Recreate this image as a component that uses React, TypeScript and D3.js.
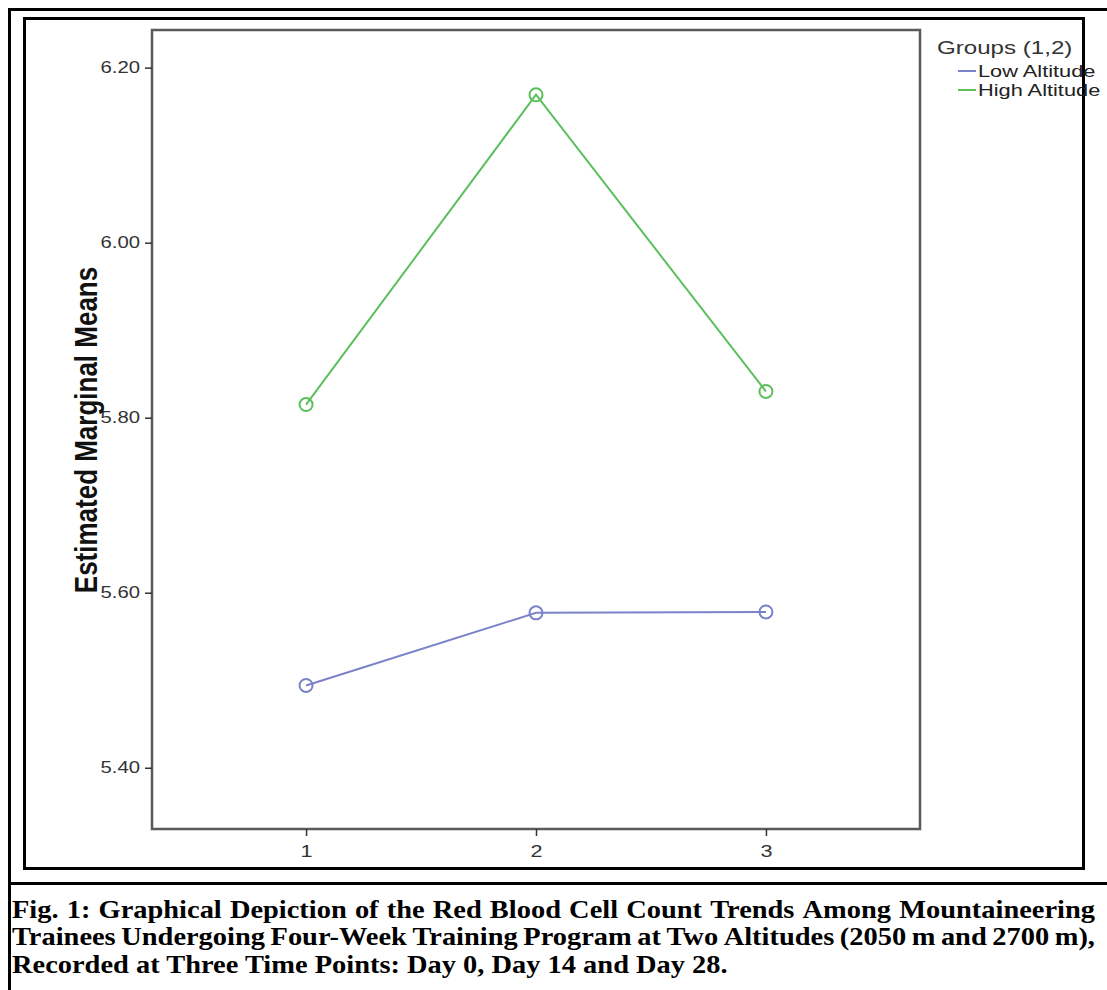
import React, { useEffect, useRef } from 'react';
import * as d3 from 'd3';

const timePoints = ['1', '2', '3'];
const lowAltitude = [5.494, 5.577, 5.578];
const highAltitude = [5.815, 6.169, 5.83];
const seriesNames = ['Low Altitude', 'High Altitude'];
const seriesColors = ['#7a82c8', '#5bc05b'];
const yTicks = [5.4, 5.6, 5.8, 6.0, 6.2];
const captionLines = [
  'Fig. 1: Graphical Depiction of the Red Blood Cell Count Trends Among Mountaineering',
  'Trainees Undergoing Four-Week Training Program at Two Altitudes (2050 m and 2700 m),',
  'Recorded at Three Time Points: Day 0, Day 14 and Day 28.',
];

const sans = '"Liberation Sans", Arial, sans-serif';
const serif = '"Liberation Serif", "Times New Roman", serif';
// the chart picture is stretched sideways a little
const stretch = 1.27;

export default function App() {
  const ref = useRef<SVGSVGElement>(null);

  useEffect(() => {
    const svg = d3.select(ref.current);
    svg.selectAll('*').remove();

    // page frames
    svg.append('line').attr('x1', 9.5).attr('y1', 8).attr('x2', 9.5).attr('y2', 990)
      .attr('stroke', '#000').attr('stroke-width', 3);
    svg.append('line').attr('x1', 8).attr('y1', 9.5).attr('x2', 1107).attr('y2', 9.5)
      .attr('stroke', '#000').attr('stroke-width', 3);
    svg.append('line').attr('x1', 8).attr('y1', 883.5).attr('x2', 1107).attr('y2', 883.5)
      .attr('stroke', '#000').attr('stroke-width', 3);
    svg.append('rect').attr('x', 24.5).attr('y', 18.5).attr('width', 1059).attr('height', 850)
      .attr('fill', 'none').attr('stroke', '#000').attr('stroke-width', 3);

    const left = 152, right = 920, top = 30, bottom = 829;

    const x = d3.scalePoint().domain(timePoints).range([left, right]).padding(0.67);
    const y = d3.scaleLinear().domain([5.33, 6.243]).range([bottom, top]);

    // plot frame
    svg.append('rect').attr('x', left).attr('y', top).attr('width', right - left).attr('height', bottom - top)
      .attr('fill', 'none').attr('stroke', '#5a5a5a').attr('stroke-width', 2.5);

    const yAxis = svg.append('g').attr('transform', `translate(${left},0)`)
      .call(d3.axisLeft(y).tickValues(yTicks).tickFormat(d3.format('.2f')).tickSize(7).tickPadding(5));
    yAxis.select('.domain').remove();
    yAxis.selectAll('line').attr('stroke', '#333').attr('stroke-width', 1.5);
    yAxis.selectAll('text')
      .attr('x', null)
      .attr('transform', `translate(-12,0) scale(${stretch},1)`)
      .attr('font-family', sans).attr('font-size', 16).attr('fill', '#333');

    const xAxis = svg.append('g').attr('transform', `translate(0,${bottom})`)
      .call(d3.axisBottom(x).tickSize(7).tickPadding(9));
    xAxis.select('.domain').remove();
    xAxis.selectAll('line').attr('stroke', '#333').attr('stroke-width', 1.5);
    xAxis.selectAll('text')
      .attr('y', null)
      .attr('transform', `translate(0,16) scale(${stretch},1)`)
      .attr('font-family', sans).attr('font-size', 17).attr('fill', '#333');

    // y title
    svg.append('text')
      .attr('transform', `translate(97,430) scale(1.2,1) rotate(-90)`)
      .attr('text-anchor', 'middle')
      .attr('font-family', sans).attr('font-weight', 'bold').attr('font-size', 26)
      .attr('fill', '#111')
      .text('Estimated Marginal Means');

    // series
    const series = [lowAltitude, highAltitude];
    const line = d3.line<number>().x((d, i) => x(timePoints[i]) as number).y(d => y(d));
    series.forEach((vals, s) => {
      svg.append('path').attr('d', line(vals)).attr('fill', 'none')
        .attr('stroke', seriesColors[s]).attr('stroke-width', 2);
      svg.selectAll(null).data(vals).enter().append('circle')
        .attr('cx', (d, i) => x(timePoints[i]) as number)
        .attr('cy', d => y(d))
        .attr('r', 6.5)
        .attr('fill', 'none').attr('stroke', seriesColors[s]).attr('stroke-width', 2);
    });

    // legend
    svg.append('text').attr('transform', `translate(937,54) scale(${stretch},1)`)
      .attr('font-family', sans).attr('font-size', 19).attr('fill', '#333')
      .text('Groups (1,2)');
    seriesNames.forEach((name, i) => {
      const ly = 71 + i * 19;
      svg.append('line').attr('x1', 958).attr('x2', 976).attr('y1', ly).attr('y2', ly)
        .attr('stroke', seriesColors[i]).attr('stroke-width', 2);
      svg.append('text').attr('transform', `translate(978,${ly + 6}) scale(1.32,1)`)
        .attr('font-family', sans).attr('font-size', 16.5).attr('fill', '#222')
        .text(name);
    });

    // caption, justified
    const capLeft = 12, capRight = 1095, lastWidth = 716, capSize = 26;
    const cap = svg.append('g');
    const probe = cap.append('text')
      .attr('font-family', serif).attr('font-weight', 'bold').attr('font-size', capSize)
      .text(captionLines[captionLines.length - 1]);
    const sx = lastWidth / (probe.node() as SVGTextElement).getComputedTextLength();
    probe.remove();
    cap.attr('transform', `translate(${capLeft},0) scale(${sx},1)`);

    captionLines.forEach((txt, li) => {
      const by = 918 + li * 27.5;
      if (li === captionLines.length - 1) {
        cap.append('text').attr('x', 0).attr('y', by)
          .attr('font-family', serif).attr('font-weight', 'bold').attr('font-size', capSize)
          .attr('fill', '#000').text(txt);
        return;
      }
      const words = txt.split(' ');
      const nodes = words.map(w => cap.append('text').attr('y', by)
        .attr('font-family', serif).attr('font-weight', 'bold').attr('font-size', capSize)
        .attr('fill', '#000').text(w));
      const widths = nodes.map(n => (n.node() as SVGTextElement).getComputedTextLength());
      const gap = ((capRight - capLeft) / sx - d3.sum(widths)) / (words.length - 1);
      let cx = 0;
      nodes.forEach((n, i) => {
        n.attr('x', cx);
        cx += widths[i] + gap;
      });
    });
  }, []);

  return (
    <svg ref={ref} width={1107} height={990}
      style={{ position: 'absolute', left: 0, top: 0, background: '#fff' }} />
  );
}
